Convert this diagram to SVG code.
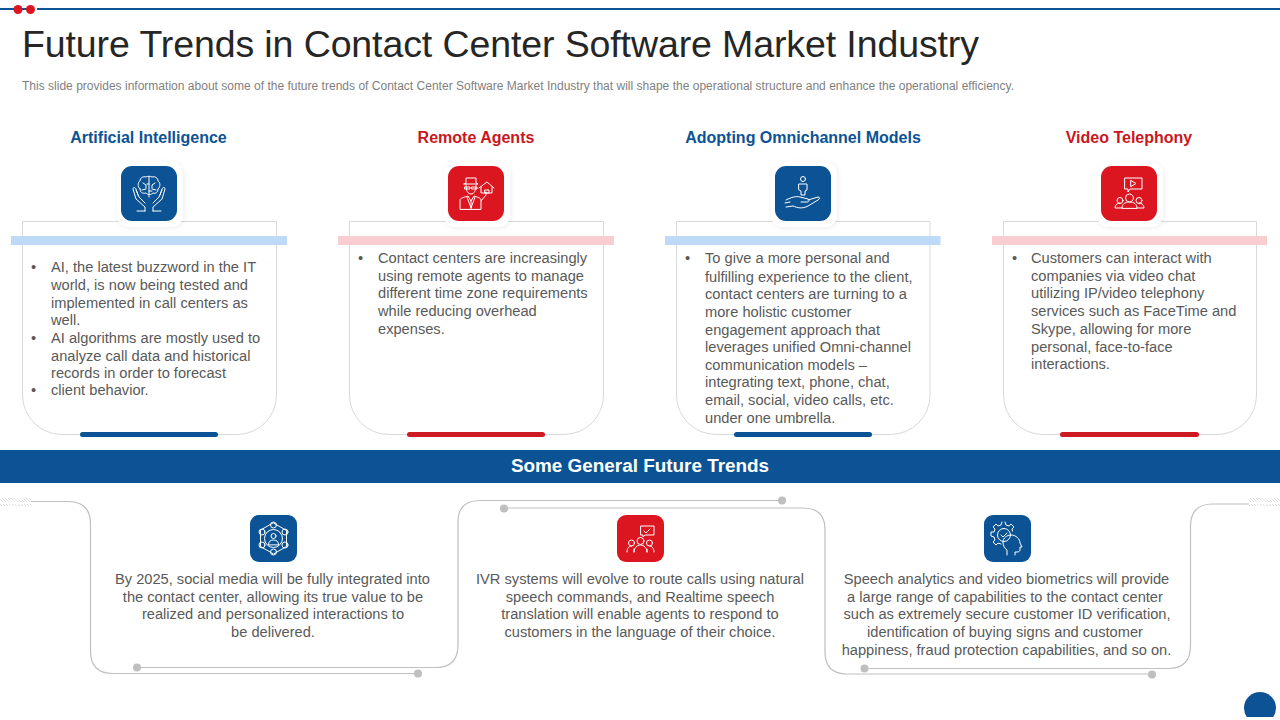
<svg xmlns="http://www.w3.org/2000/svg" width="1280" height="720" viewBox="0 0 1280 720">
<style>
text{font-family:"Liberation Sans",Arial,sans-serif}
.title{font-size:37.5px;fill:#262626}
.sub{font-size:12px;fill:#7f7f7f}
.head{font-size:16px;font-weight:bold;text-anchor:middle}
.blue{fill:#0b5394}.red{fill:#dc1620}
.hred{fill:#c9171e}.bred{fill:#ce1a22}
.body{font-size:14.65px;fill:#595959}
.mid{text-anchor:middle}
.card{fill:#fff;stroke:#d9d9d9;stroke-width:1}
.ico{fill:none;stroke:#fff;stroke-width:1;stroke-linecap:round;stroke-linejoin:round}
.halo{fill:#fff;filter:url(#sh)}
.lin{fill:none;stroke:#bfbfbf;stroke-width:1.2}
.dot{fill:#bfbfbf}
.hatch{stroke:#d0d0d0;stroke-width:.7}
</style>
<defs>
<filter id="sh" x="-20%" y="-20%" width="140%" height="140%"><feDropShadow dx="1" dy="1" stdDeviation="2.5" flood-color="#000" flood-opacity=".07"/></filter>
<pattern id="ht" width="3" height="8" patternUnits="userSpaceOnUse"><path d="M-1 -1L8 8M-4 -1L5 8M2 -1L11 8" class="hatch" fill="none"/></pattern>
</defs>
<rect width="1280" height="720" fill="#fff"/>
<g id="topbar">
<rect x="0" y="8" width="1280" height="2" fill="#0b5394"/>
<rect x="11" y="4" width="26" height="10" fill="#fff"/>
<rect x="9" y="8" width="20" height="2" fill="#0b5394"/>
<circle cx="18" cy="9.500" r="4.500" class="red"/><circle cx="30.500" cy="9.500" r="4.500" class="red"/>
</g>
<text class="title" x="22" y="56.500" textLength="957">Future Trends in Contact Center Software Market Industry</text>
<text class="sub" x="22" y="90" textLength="992">This slide provides information about some of the future trends of Contact Center Software Market Industry that will shape the operational structure and enhance the operational efficiency.</text>

<g id="connectors">
<path class="lin" d="M31 501.500H68Q90.500 501.500 90.500 524V651Q90.500 673.500 113 673.500H418"/>
<path class="lin" d="M137 667.500H436Q458 667.500 458 645V522Q458 500.500 480 500.500H782"/>
<path class="lin" d="M504 508H803Q825 508 825 530V652Q825 674 847 674H1152"/>
<path class="lin" d="M864.500 668.500H1168Q1190.500 668.500 1190.500 646V526Q1190.500 504 1213 504H1249"/>
<rect x="0" y="498" width="31" height="8" fill="url(#ht)"/>
<rect x="1249" y="498" width="31" height="8" fill="url(#ht)"/>
<circle class="dot" cx="137" cy="667.500" r="4"/><circle class="dot" cx="418" cy="673.500" r="4"/>
<circle class="dot" cx="504" cy="508.500" r="4"/><circle class="dot" cx="782" cy="500.500" r="4"/>
<circle class="dot" cx="864.500" cy="668.500" r="4"/><circle class="dot" cx="1152" cy="674.500" r="4"/>
</g>

<g id="card-ai">
<text class="head blue" x="148.500" y="143">Artificial Intelligence</text>
<path class="card" d="M22.500 221.500H276.500V395A39.500 39.500 0 0 1 237 434.500H62A39.500 39.500 0 0 1 22.500 395Z"/>
<rect x="11" y="236" width="276" height="9" fill="#bddbf9"/>
<rect x="80" y="432" width="138" height="5" rx="2.500" class="blue"/>
<rect x="117" y="162" width="66" height="65" rx="12" class="halo"/>
<rect x="121" y="166" width="56" height="55" rx="11" class="blue"/>
<g class="ico" stroke-width=".8"><path d="M140 189c-3-3-2-7 0-8 0-3 3-5 6-4 2-1 4-1 6 0 3-1 6 1 6 4 2 1 3 5 0 8 0 3-2 5-5 4-2 2-5 2-7 0-4 1-6-1-6-4ZM149 177V197M143 183l3 2v3M155 183l-3 2v3M142 190l4-1M156 190l-4-1M149 184h-2M149 191h3"/><path d="M145 211v-4l-9-8-3-10c0-2 2-2 3 0l2 6M136 190l3 7 6 6M153 211v-4l9-8 3-10c0-2-2-2-3 0l-2 6M162 190l-3 7-6 6M137 211h8M153 211h8"/></g>
<g class="body">
<text x="31" y="272">•</text><text x="51" y="272">AI, the latest buzzword in the IT</text>
<text x="51" y="290">world, is now being tested and</text>
<text x="51" y="308">implemented in call centers as</text>
<text x="51" y="325">well.</text>
<text x="31" y="343">•</text><text x="51" y="343">AI algorithms are mostly used to</text>
<text x="51" y="361">analyze call data and historical</text>
<text x="51" y="378">records in order to forecast</text>
<text x="31" y="395">•</text><text x="51" y="395">client behavior.</text>
</g>
</g>

<g id="card-remote">
<text class="head hred" x="476" y="143">Remote Agents</text>
<path class="card" d="M349.500 221.500H603.500V395A39.500 39.500 0 0 1 564 434.500H389A39.500 39.500 0 0 1 349.500 395Z"/>
<rect x="338" y="236" width="276" height="9" fill="#facdd0"/>
<rect x="407" y="432" width="138" height="5" rx="2.500" class="bred"/>
<rect x="444" y="162" width="66" height="65" rx="12" class="halo"/>
<rect x="448" y="166" width="56" height="55" rx="11" class="red"/>
<g class="ico"><path d="M464 184h14l-2-1v-5h-10v5ZM466 185c0 6 2 9 5 9s5-3 5-9M465 187h5v2h-5ZM472 187h5v2h-5ZM460 209v-9c0-2 5-3 8-4l3 5 3-5c3 1 7 2 7 4v9ZM471 201v8M467 197l4 11 4-11M481 201l5-6v-3M479 188l8-6 7 6M481 187v6h11v-6M485 190h4v3h-4Z"/></g>
<g class="body">
<text x="358" y="263">•</text><text x="378" y="263">Contact centers are increasingly</text>
<text x="378" y="281">using remote agents to manage</text>
<text x="378" y="298">different time zone requirements</text>
<text x="378" y="316">while reducing overhead</text>
<text x="378" y="334">expenses.</text>
</g>
</g>

<g id="card-omni">
<text class="head blue" x="803" y="143">Adopting Omnichannel Models</text>
<path class="card" d="M676.500 221.500H930V395A39.500 39.500 0 0 1 890.500 434.500H716A39.500 39.500 0 0 1 676.500 395Z"/>
<rect x="665" y="236" width="275.500" height="9" fill="#bddbf9"/>
<rect x="734" y="432" width="138" height="5" rx="2.500" class="blue"/>
<rect x="771" y="162" width="66" height="65" rx="12" class="halo"/>
<rect x="775" y="166" width="56" height="55" rx="11" class="blue"/>
<g class="ico"><circle cx="803" cy="179" r="2.500"/><path d="M799 184h8v6l-2 1v4h-4v-4l-2-1ZM786 200c6-3 10-4 14-3l8 2c2 1 1 3-1 3h-6M808 200l10-3c2 0 2 2 0 3l-10 6c-6 3-10 2-15 0l-7 1M785 203l5-1"/></g>
<g class="body">
<text x="685" y="263">•</text><text x="705" y="263">To give a more personal and</text>
<text x="705" y="282">fulfilling experience to the client,</text>
<text x="705" y="299">contact centers are turning to a</text>
<text x="705" y="317">more holistic customer</text>
<text x="705" y="335">engagement approach that</text>
<text x="705" y="352">leverages unified Omni-channel</text>
<text x="705" y="370">communication models –</text>
<text x="705" y="387">integrating text, phone, chat,</text>
<text x="705" y="405">email, social, video calls, etc.</text>
<text x="705" y="423">under one umbrella.</text>
</g>
</g>

<g id="card-video">
<text class="head hred" x="1129" y="143">Video Telephony</text>
<path class="card" d="M1003.500 221.500H1256.500V395A39.500 39.500 0 0 1 1217 434.500H1043A39.500 39.500 0 0 1 1003.500 395Z"/>
<rect x="992" y="236" width="275" height="9" fill="#facdd0"/>
<rect x="1060" y="432" width="139" height="5" rx="2.500" class="bred"/>
<rect x="1097" y="162" width="66" height="65" rx="12" class="halo"/>
<rect x="1101" y="166" width="56" height="55" rx="11" class="red"/>
<g class="ico"><path d="M1125 178h17v11h-12l-2 3v-3h-3ZM1131 180.500l5 3-5 3Z"/><circle cx="1129.500" cy="198" r="4"/><circle cx="1120" cy="200.500" r="3"/><circle cx="1139" cy="200.500" r="3"/><path d="M1122 208c0-4 3-6 7.500-6s7.500 2 7.500 6ZM1122 208h-7c0-3 2-5 5-5M1137 208h7c0-3-2-5-5-5"/></g>
<g class="body">
<text x="1012" y="263">•</text><text x="1031" y="263">Customers can interact with</text>
<text x="1031" y="281">companies via video chat</text>
<text x="1031" y="298">utilizing IP/video telephony</text>
<text x="1031" y="316">services such as FaceTime and</text>
<text x="1031" y="334">Skype, allowing for more</text>
<text x="1031" y="352">personal, face-to-face</text>
<text x="1031" y="369">interactions.</text>
</g>
</g>

<g id="band">
<rect x="0" y="450" width="1280" height="33" class="blue"/>
<text x="640" y="472" font-size="18.900" font-weight="bold" fill="#fff" text-anchor="middle">Some General Future Trends</text>
</g>

<g id="trend-social">
<rect x="250" y="515" width="47" height="47" rx="9" class="blue"/>
<g class="ico" stroke-width=".7"><path d="M273.500 523l13 7.500v16l-13 7.500-13-7.500v-16Z"/><circle cx="273.500" cy="525" r="3"/><circle cx="273.500" cy="552" r="3"/><circle cx="262" cy="532" r="3"/><circle cx="285" cy="532" r="3"/><circle cx="262" cy="545" r="3"/><circle cx="285" cy="545" r="3"/><circle cx="273.500" cy="538.500" r="9"/><circle cx="273.500" cy="536" r="2.500"/><path d="M268.500 544.500c0-3 2-4.500 5-4.500s5 1.500 5 4.500Z"/></g>
<g class="body mid">
<text x="272.500" y="584">By 2025, social media will be fully integrated into</text>
<text x="273" y="602">the contact center, allowing its true value to be</text>
<text x="273" y="619">realized and personalized interactions to</text>
<text x="273" y="637">be delivered.</text>
</g>
</g>

<g id="trend-ivr">
<rect x="617" y="515" width="47" height="47" rx="9" class="red"/>
<g class="ico" stroke-width=".7"><path d="M641 526h13v9h-9l-2 2v-2h-2ZM644 531l2 2 4-4"/><circle cx="640.500" cy="541" r="3.500"/><circle cx="631.500" cy="543" r="3"/><circle cx="649.500" cy="543" r="3"/><path d="M634 552c0-4 3-7 6.500-7s6.500 3 6.500 7M627 552c0-4 2-6 4.500-6M654 552c0-4-2-6-4.500-6M634 552v-3M647 552v-3"/></g>
<g class="body mid">
<text x="640" y="584">IVR systems will evolve to route calls using natural</text>
<text x="640" y="602">speech commands, and Realtime speech</text>
<text x="640" y="619">translation will enable agents to respond to</text>
<text x="640" y="637">customers in the language of their choice.</text>
</g>
</g>

<g id="trend-speech">
<rect x="984" y="515" width="47" height="47" rx="9" class="blue"/>
<g class="ico" stroke-width=".9"><path d="M1005 522l1 3 3 1 2-2 3 3-2 2 .5 2M1002 522l-1 3-3 1-2-2-3 3 2 2-1 3h-3v4l3 1 1 3-2 2 3 3 2-2 3 1"/><circle cx="1004" cy="535" r="6.500"/><path d="M1001 535l2 2 4-4M1007 555v-5c-3-2-4-5-4-8 0-4 4-7 8-7 5 0 9 4 9 8l2 4h-2v3c0 1-1 2-3 2h-2v3"/></g>
<g class="body mid">
<text x="1006.500" y="584">Speech analytics and video biometrics will provide</text>
<text x="1005" y="602">a large range of capabilities to the contact center</text>
<text x="1007" y="619">such as extremely secure customer ID verification,</text>
<text x="1005" y="637">identification of buying signs and customer</text>
<text x="1006.500" y="655">happiness, fraud protection capabilities, and so on.</text>
</g>
</g>

<path id="corner" class="blue" d="M1246.800 717A16 16 0 1 1 1273.200 717Z"/>
</svg>
